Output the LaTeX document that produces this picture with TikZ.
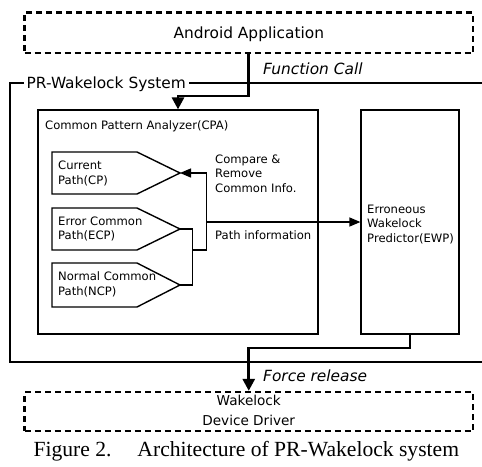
\documentclass[tikz,border=0pt]{standalone}
\usepackage{fontspec}
\setmainfont{DejaVu Sans}
\newfontfamily\capfont{Liberation Serif}
\usetikzlibrary{arrows.meta,calc}
\newcommand{\tlines}[1]{\begin{tabular}[t]{@{}l@{}}#1\end{tabular}}
\newcommand{\clines}[1]{\begin{tabular}{@{}c@{}}#1\end{tabular}}
\begin{document}
\begin{tikzpicture}[x=1pt,y=-1pt,
  big/.style={font=\fontsize{15.4}{18}\selectfont},
  small/.style={font=\fontsize{11.6}{14.6}\selectfont},
  txt/.style={inner sep=0pt,anchor=base west},
  dbox/.style={draw,line width=2.3pt,dash pattern=on 6pt off 4pt,inner sep=0pt,minimum width=448.5pt},
  tbox/.style={draw,line width=1.2pt,inner sep=0pt},
  pent/.style={draw,line width=1.4pt,line join=miter},
  heavy/.style={line width=2.8pt},
  heavyarrow/.style={line width=2.8pt,-{Triangle[length=12pt,width=12pt]}},
  thinarrow/.style={line width=1.3pt,-{Triangle[length=11pt,width=9pt]}},
  thin/.style={line width=1.3pt}]
\useasboundingbox (0,0) rectangle (482,466);
% outer boxes
\node[dbox,big,minimum height=40.5pt,text height=11.2pt,text depth=0pt] (app) at (248.75,32.75) {Android Application};
\node[dbox,minimum height=39pt,font=\fontsize{13.6}{19.3}\selectfont] (drv) at (248.75,411.5) {\raisebox{-1.5pt}{\clines{Wakelock\\Device Driver}}};
% PR-Wakelock frame
\draw[heavy] (482,83) -- (10,83) -- (10,362) -- (482,362);
\node[txt,big,fill=white,inner xsep=3pt,inner ysep=1pt] (sys) at (23.5,88) {PR-Wakelock System};
% CPA and EWP
\node[tbox,minimum width=280pt,minimum height=224pt] (cpa) at (178,222) {};
\node[txt,small] (cpal) at (45,129.3) {Common Pattern Analyzer(CPA)};
\node[tbox,minimum width=98pt,minimum height=224pt] (ewp) at (410,222) {};
\node[txt,small] (ewpl) at (367,213.3) {\tlines{Erroneous\\Wakelock\\Predictor(EWP)}};
% pentagons
\draw[pent] (52,152) -- (137,152) -- (180,173) coordinate (cptip) -- (137,194) -- (52,194) -- cycle;
\draw[pent] (52,208) -- (137,208) -- (180,229) coordinate (ecptip) -- (137,250) -- (52,250) -- cycle;
\draw[pent] (52,263) -- (137,263) -- (180,285) coordinate (ncptip) -- (137,307) -- (52,307) -- cycle;
\node[txt,small] (cpt) at (58,169.5) {\tlines{Current\\Path(CP)}};
\node[txt,small] (ecpt) at (58,225.3) {\tlines{Error Common\\Path(ECP)}};
\node[txt,small] (ncpt) at (58,280.5) {\tlines{Normal Common\\Path(NCP)}};
\node[txt,small] (cmp) at (215,163.3) {\tlines{Compare \&\\Remove\\Common Info.}};
\node[txt,small] (pinf) at (215,239.3) {Path information};
% inner connectors
\coordinate (bx) at (192.5,250);
\coordinate (jx) at (206.5,250);
\coordinate (ji) at (206.5,222);
\coordinate (jt) at (206.5,173);
\draw[thin] (ecptip) -| (bx) |- (ncptip);
\draw[thin] (bx) -- (jx) -- (ji) -- (jt);
\draw[thinarrow] (jt) -- (cptip);
\draw[thinarrow] (ji) -- (ewp.west);
% heavy connectors
\coordinate (fc) at (248.75,96);
\coordinate (fr) at (410,348);
\draw[heavyarrow] (app.south) -- (fc) -| (cpa.north);
\draw[heavyarrow] (ewp.south) -- (fr) -| (drv.north);
\node[txt,font=\fontsize{15.4}{18}\selectfont\itshape] (fcl) at (263,74) {Function Call};
\node[txt,font=\fontsize{15.4}{18}\selectfont\itshape] (frl) at (263,381.7) {Force release};
% caption
\node[txt,font=\capfont\fontsize{21.6}{24}\selectfont] (cap) at (33.3,456) {Figure 2.\hspace{26pt}Architecture of PR-Wakelock system};
\end{tikzpicture}
\end{document}
